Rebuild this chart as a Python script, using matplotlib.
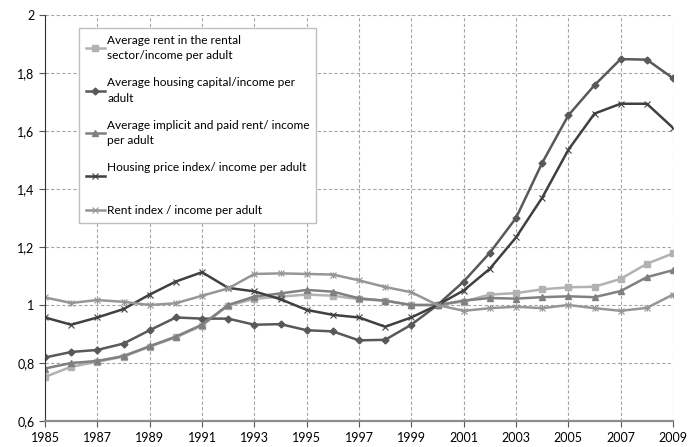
import matplotlib
matplotlib.use('Agg')
import matplotlib.pyplot as plt
import numpy as np
from matplotlib.ticker import FuncFormatter

plt.rcParams['font.family'] = ['Lato', 'DejaVu Sans']

years = list(range(1985, 2010))

rent_rental = [0.752, 0.787, 0.804, 0.822, 0.856, 0.888, 0.929, 0.998, 1.021, 1.029,
               1.036, 1.032, 1.020, 1.015, 1.000, 1.000, 1.012, 1.036, 1.041, 1.054,
               1.061, 1.063, 1.090, 1.142, 1.178]
housing_capital = [0.819, 0.838, 0.845, 0.867, 0.913, 0.957, 0.953, 0.953, 0.932, 0.934,
                   0.913, 0.909, 0.878, 0.880, 0.932, 1.000, 1.081, 1.180, 1.300, 1.490,
                   1.654, 1.758, 1.848, 1.846, 1.782]
implicit_rent = [0.781, 0.800, 0.807, 0.824, 0.858, 0.891, 0.932, 1.000, 1.029, 1.040,
                 1.052, 1.046, 1.023, 1.015, 1.000, 1.000, 1.015, 1.024, 1.022, 1.027,
                 1.030, 1.027, 1.048, 1.096, 1.120]
price_index = [0.957, 0.932, 0.957, 0.986, 1.036, 1.081, 1.113, 1.059, 1.047, 1.020,
               0.983, 0.966, 0.957, 0.925, 0.957, 1.000, 1.050, 1.125, 1.233, 1.370,
               1.535, 1.660, 1.694, 1.694, 1.611]
rent_index = [1.026, 1.007, 1.017, 1.011, 1.000, 1.006, 1.032, 1.057, 1.107, 1.109,
              1.107, 1.105, 1.085, 1.062, 1.044, 1.000, 0.980, 0.989, 0.994, 0.989,
              1.000, 0.989, 0.980, 0.990, 1.036]

labels = ['Average rent in the rental\nsector/income per adult',
          'Average housing capital/income per\nadult',
          'Average implicit and paid rent/ income\nper adult',
          'Housing price index/ income per adult\n ',
          'Rent index / income per adult']

fig = plt.figure(figsize=(6.99, 4.47), dpi=100)
ax = fig.add_axes([45/699, 1-421/447, (673-45)/699, (421-15)/447])

ax.plot(years, rent_rental, color='#b2b2b2', lw=1.8, marker='s', ms=4.5, label=labels[0])
ax.plot(years, housing_capital, color='#595959', lw=1.8, marker='D', ms=3.5, label=labels[1])
ax.plot(years, implicit_rent, color='#808080', lw=1.8, marker='^', ms=5, label=labels[2])
ax.plot(years, price_index, color='#404040', lw=1.8, marker='x', ms=5, mew=0.8, label=labels[3])
ax.plot(years, rent_index, color='#969696', lw=1.8, marker='x', ms=5, mew=0.8, label=labels[4])
ax.plot(years, rent_index, color='#969696', lw=0, marker='+', ms=5, mew=0.8)

ax.set_xlim(1985, 2009)
ax.set_ylim(0.6, 2.0)
ax.set_xticks(range(1985, 2010, 2))
ax.set_yticks(np.arange(0.6, 2.01, 0.2))
ax.yaxis.set_major_formatter(FuncFormatter(lambda v, p: ('%.1f' % v).rstrip('0').rstrip('.').replace('.', ',')))
ax.grid(True, color='#a6a6a6', ls=(0, (3, 2)), lw=0.8)
ax.set_axisbelow(True)

for s in ['top', 'right']:
    ax.spines[s].set_visible(False)
ax.spines['left'].set_color('#333333')
ax.spines['bottom'].set_color('#8c8c8c')
ax.spines['bottom'].set_linewidth(1.6)
ax.tick_params(axis='both', labelsize=9, length=4, color='#555555', direction='out')
ax.tick_params(axis='x', pad=4)

leg = ax.legend(loc='upper left', bbox_to_anchor=(79/699, 1-28/447), bbox_transform=fig.transFigure,
                borderaxespad=0, fancybox=False, edgecolor='#bfbfbf', fontsize=8.6,
                handlelength=1.6, handletextpad=0.2, labelspacing=1.35, borderpad=0.55,
                framealpha=1)
leg.get_frame().set_linewidth(1.0)
for t in leg.get_texts():
    t.set_linespacing(1.5)

fig.savefig('out.png', dpi=100)
